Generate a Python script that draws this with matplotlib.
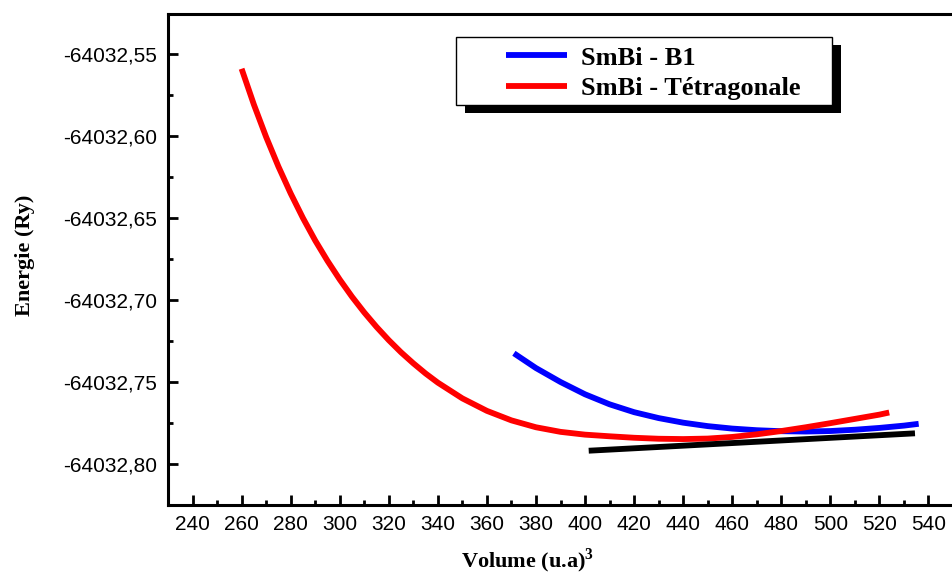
import matplotlib
matplotlib.use("Agg")
import matplotlib.pyplot as plt
from matplotlib.patches import Rectangle
from matplotlib.ticker import MultipleLocator, FuncFormatter

plt.rcParams["mathtext.fontset"] = "custom"
plt.rcParams["mathtext.bf"] = "Liberation Serif:bold"
plt.rcParams["mathtext.rm"] = "Liberation Serif:bold"

# energies are written as offsets from E0 (Ry)
E0 = -64032.0

vol_tetra = [260, 265, 270, 275, 280, 285, 290, 295, 300, 305, 310, 315, 320, 325,
             330, 335, 340, 350, 360, 370, 380, 390, 400, 410, 420, 430, 440, 450,
             460, 470, 480, 490, 500, 510, 520, 524]
e_tetra = [-0.5590, -0.5808, -0.6006, -0.6186, -0.6350, -0.6500, -0.6637, -0.6761,
           -0.6875, -0.6980, -0.7076, -0.7164, -0.7245, -0.7319, -0.7386, -0.7448,
           -0.7504, -0.7600, -0.7676, -0.7734, -0.7776, -0.7804, -0.7821, -0.7831,
           -0.7840, -0.7846, -0.7848, -0.7845, -0.7835, -0.7819, -0.7799, -0.7776,
           -0.7751, -0.7725, -0.7699, -0.7686]

vol_b1 = [371, 380, 390, 400, 410, 420, 430, 440, 450, 460, 470, 480, 490, 500,
          510, 520, 530, 536]
e_b1 = [-0.7325, -0.7415, -0.7500, -0.7575, -0.7636, -0.7684, -0.7720, -0.7748,
        -0.7769, -0.7784, -0.7794, -0.7800, -0.7802, -0.7799, -0.7791, -0.7780,
        -0.7766, -0.7755]

vol_tangent = [401.5, 534.5]
e_tangent = [-0.7919, -0.7813]

xticks = list(range(240, 541, 20))
yticks = [-0.80, -0.75, -0.70, -0.65, -0.60, -0.55]

W, H = 952, 578
fig = plt.figure(figsize=(W / 100, H / 100), dpi=100)


def px(x0, y0, x1, y1):
    # figure-pixel box (from top-left) -> figure fraction [l, b, w, h]
    return [x0 / W, 1 - y1 / H, (x1 - x0) / W, (y1 - y0) / H]


ax = fig.add_axes(px(168, 14, 953, 505))

lw = 4.2
style = dict(lw=lw, solid_capstyle="butt", solid_joinstyle="round")
l_b1, = ax.plot(vol_b1, [E0 + e for e in e_b1], color="#0000ff",
                label="SmBi - B1", **style)
l_tet, = ax.plot(vol_tetra, [E0 + e for e in e_tetra], color="#ff0000",
                 label="SmBi - Tétragonale", **style)
ax.plot(vol_tangent, [E0 + e for e in e_tangent], color="black", **style)

ax.set_xlim(230, 550)
ax.set_ylim(E0 - 0.825, E0 - 0.52561)
ax.set_xticks(xticks)
ax.xaxis.set_minor_locator(MultipleLocator(10))
ax.set_yticks([E0 + t for t in yticks])
ax.yaxis.set_minor_locator(MultipleLocator(0.025))
ax.yaxis.set_major_formatter(FuncFormatter(lambda v, p: f"{v:.2f}".replace(".", ",")))

for s in ax.spines.values():
    s.set_linewidth(2.2)
ax.spines["right"].set_visible(False)

ax.tick_params(which="both", direction="in", width=2, top=False, right=False)
ax.tick_params(which="major", length=7.5)
ax.tick_params(which="minor", length=3.8)
ax.tick_params(axis="x", which="major", pad=7, labelsize=15)
ax.tick_params(axis="y", which="major", pad=8, labelsize=15)
for lab in ax.get_xticklabels() + ax.get_yticklabels():
    lab.set_fontfamily("Liberation Sans")

serif_bold = dict(family="Liberation Serif", weight="bold")
fig.text(528 / W, 1 - 561 / H, r"Volume (u.a)$^{\mathbf{3}}$", ha="center",
         va="center", fontsize=16, **serif_bold)
fig.text(25 / W, 1 - 255 / H, "Energie (Ry)", ha="center", va="center",
         rotation=90, fontsize=16, **serif_bold)

# legend box with a hard black shadow
fig.add_artist(Rectangle((465 / W, 1 - 113 / H), 376 / W, 68 / H,
                         transform=fig.transFigure, facecolor="black",
                         edgecolor="none", zorder=3))
fig.add_artist(Rectangle((456 / W, 1 - 105 / H), 376 / W, 68 / H,
                         transform=fig.transFigure, facecolor="white",
                         edgecolor="black", lw=1, zorder=4))
fig.legend(handles=[l_b1, l_tet], loc="center left",
           bbox_to_anchor=(493 / W, 1 - 73 / H), frameon=False,
           borderpad=0, handlelength=2.3, handletextpad=0.55,
           labelspacing=0.25, prop=dict(size=19, **serif_bold))

fig.savefig("out.png", dpi=100)
